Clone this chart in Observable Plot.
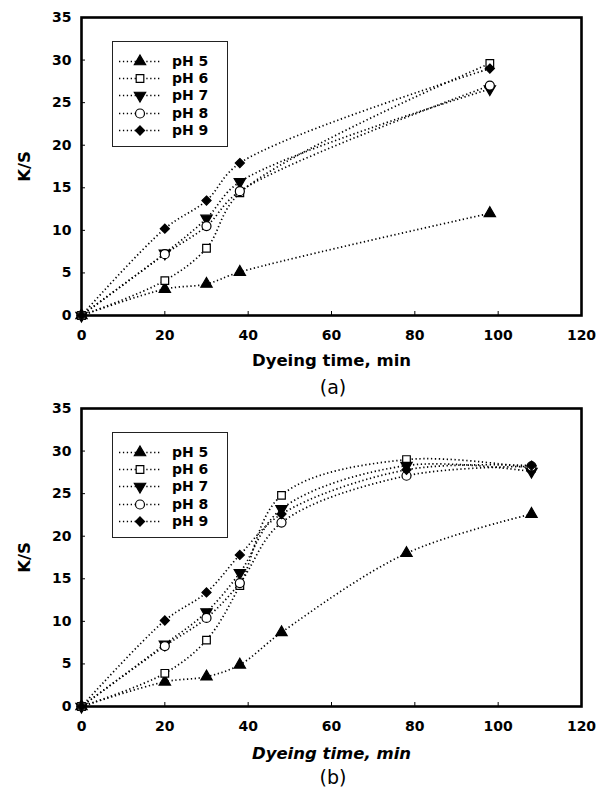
<!DOCTYPE html>
<html>
<head>
<meta charset="utf-8">
<script src="https://cdn.jsdelivr.net/npm/d3@7"></script>
<script src="https://cdn.jsdelivr.net/npm/@observablehq/plot@0.6"></script>
<style>
  html, body { margin: 0; padding: 0; background: #fff; }
  body { font-family: "DejaVu Sans", "Liberation Sans", Arial, sans-serif; }
  #wrap { position: relative; width: 606px; height: 787px; overflow: hidden; }
  .panel { position: absolute; left: 0; width: 606px; }
  .cap { position: absolute; z-index: 3; left: 0; width: 606px; padding-left: 60px; box-sizing: border-box; text-align: center; font-size: 19px; line-height: 19px; height: 19px; color: #000; }
  .legend { position: absolute; left: 112px; width: 114px; height: 104px; border: 1px solid #222; background: #fff; }
  .legend .row { position: absolute; left: 0; height: 17px; width: 114px; }
  .legend svg { position: absolute; left: 0; top: 0; }
  .legend span { position: absolute; left: 59px; top: 0; line-height: 17px; font-size: 14px; font-weight: bold; color: #000; }
</style>
</head>
<body>
<div id="wrap">
  <div class="panel" id="pa" style="top:0px"></div>
  <div class="panel" id="pb" style="top:391px"></div>
  <div class="cap" style="top:378px">(a)</div>
  <div class="cap" style="top:768px">(b)</div>
</div>
<script>
// ---- data ----
const seriesNames = ["pH 5", "pH 6", "pH 7", "pH 8", "pH 9"];
const xTicks = [0, 20, 40, 60, 80, 100, 120];
const yTicks = [0, 5, 10, 15, 20, 25, 30, 35];

// panel (a)
const timeA = [0, 20, 30, 38, 98];
const ksA_pH5 = [0, 3.1, 3.7, 5.1, 12.0];
const ksA_pH6 = [0, 4.1, 7.9, 14.4, 29.6];
const ksA_pH7 = [0, 7.3, 11.4, 15.7, 26.6];
const ksA_pH8 = [0, 7.2, 10.5, 14.6, 27.0];
const ksA_pH9 = [0, 10.2, 13.5, 17.9, 29.0];

// panel (b)
const timeB = [0, 20, 30, 38, 48, 78, 108];
const ksB_pH5 = [0, 2.9, 3.5, 4.9, 8.7, 18.0, 22.6];
const ksB_pH6 = [0, 3.9, 7.8, 14.2, 24.8, 29.0, 28.0];
const ksB_pH7 = [0, 7.3, 11.1, 15.7, 23.2, 28.3, 27.6];
const ksB_pH8 = [0, 7.1, 10.4, 14.5, 21.6, 27.1, 28.2];
const ksB_pH9 = [0, 10.1, 13.4, 17.8, 22.6, 27.8, 28.3];

const xLabelA = "Dyeing time, min";
const xLabelB = "Dyeing time, min";
const yLabel = "K/S";

// ---- symbols ----
const sqrt3 = Math.sqrt(3);
const triangleDown = {
  draw(context, size) {
    const y = -Math.sqrt(size / (sqrt3 * 3));
    context.moveTo(0, -y * 2);
    context.lineTo(-sqrt3 * y, y);
    context.lineTo(sqrt3 * y, y);
    context.closePath();
  }
};
const seriesStyle = [
  {symbol: d3.symbolTriangle, fill: "#000", r: 4.2},
  {symbol: d3.symbolSquare, fill: "#fff", r: 4.3},
  {symbol: triangleDown, fill: "#000", r: 4.2},
  {symbol: d3.symbolCircle, fill: "#fff", r: 4.5},
  {symbol: d3.symbolDiamond2, fill: "#000", r: 4.1}
];

function buildTable(times, arrays) {
  const rows = [];
  arrays.forEach((vals, i) => {
    vals.forEach((v, j) => rows.push({series: seriesNames[i], idx: i, t: times[j], ks: v}));
  });
  return rows;
}

const dash = "1.3 2.6";

function makeChart(rows, xLabel, italic, labelOffset) {
  const marks = [
    Plot.axisX({ticks: xTicks, tickSize: -4, tickPadding: 19, label: xLabel,
      labelAnchor: "center", labelArrow: "none", labelOffset: labelOffset, tickFormat: d3.format("d")}),
    Plot.axisY({ticks: yTicks, tickSize: -4, tickPadding: 14, label: yLabel,
      labelAnchor: "center", labelArrow: "none", labelOffset: 63, tickFormat: d3.format("d")}),
    Plot.line(rows, {x: "t", y: "ks", z: "series", curve: "catmull-rom",
      stroke: "#000", strokeWidth: 1.7, strokeDasharray: dash, strokeLinecap: "butt"})
  ];
  seriesNames.forEach((name, i) => {
    const st = seriesStyle[i];
    marks.push(Plot.dot(rows.filter(d => d.idx === i), {x: "t", y: "ks", symbol: st.symbol,
      r: st.r, fill: st.fill, stroke: "#000", strokeWidth: 1.2}));
  });
  marks.push(Plot.frame({stroke: "#000", strokeWidth: 2.6}));
  const svg = Plot.plot({
    width: 606, height: 375,
    marginLeft: 81, marginRight: 25, marginTop: 17, marginBottom: 60,
    style: {fontFamily: "'DejaVu Sans', 'Liberation Sans', Arial, sans-serif", fontSize: "14px", fontWeight: "bold", color: "#000", background: "transparent"},
    x: {domain: [0, 120], label: null},
    y: {domain: [0, 35], label: null},
    marks
  });
  const d3svg = d3.select(svg);
  d3svg.selectAll('g[aria-label="x-axis label"] text, g[aria-label="y-axis label"] text').style("font-size", "16.5px");
  if (italic) d3svg.selectAll('g[aria-label="x-axis label"] text').style("font-style", "italic");
  return svg;
}

function makeLegend(container, top) {
  const box = document.createElement("div");
  box.className = "legend";
  box.style.top = top + "px";
  seriesNames.forEach((name, i) => {
    const st = seriesStyle[i];
    const row = document.createElement("div");
    row.className = "row";
    row.style.top = (11 + i * 17.2) + "px";
    const s = d3.create("svg").attr("width", 56).attr("height", 17);
    s.append("line").attr("x1", 6).attr("x2", 48).attr("y1", 8.5).attr("y2", 8.5)
      .attr("stroke", "#000").attr("stroke-width", 1.7).attr("stroke-dasharray", dash);
    s.append("path").attr("transform", "translate(27,8.5)")
      .attr("d", d3.symbol(st.symbol, Math.PI * st.r * st.r)())
      .attr("fill", st.fill).attr("stroke", "#000").attr("stroke-width", 1.2);
    row.appendChild(s.node());
    const t = document.createElement("span");
    t.textContent = name;
    row.appendChild(t);
    box.appendChild(row);
  });
  container.appendChild(box);
}

const pa = document.getElementById("pa");
pa.appendChild(makeChart(buildTable(timeA, [ksA_pH5, ksA_pH6, ksA_pH7, ksA_pH8, ksA_pH9]), xLabelA, false, 50));
makeLegend(pa, 41);

const pb = document.getElementById("pb");
pb.appendChild(makeChart(buildTable(timeB, [ksB_pH5, ksB_pH6, ksB_pH7, ksB_pH8, ksB_pH9]), xLabelB, true, 52));
makeLegend(pb, 41);
</script>
</body>
</html>
